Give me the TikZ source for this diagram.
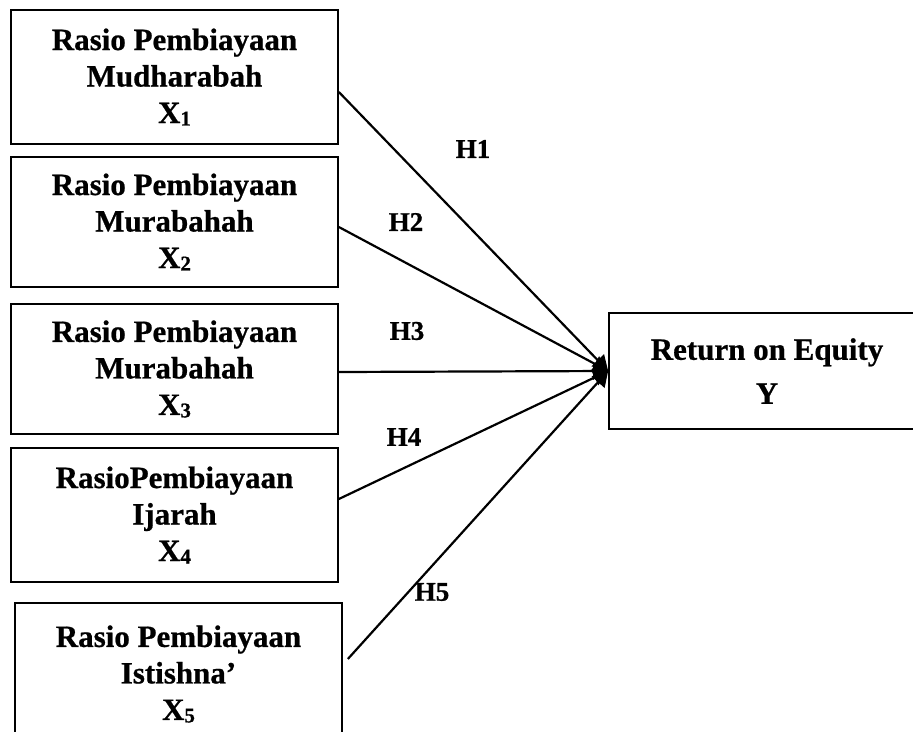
\documentclass[tikz,border=0pt]{standalone}
\usepackage{fontspec}
\setmainfont{Liberation Serif}[BoldFeatures={FakeBold=0.7}]
\usetikzlibrary{arrows.meta}
% small, slightly lowered index after a variable letter
\newcommand\varidx[1]{\raisebox{-0.08em}{\fontsize{21}{21}\selectfont #1}}

\begin{document}
\begin{tikzpicture}[x=1pt,y=-1pt,
  varbox/.style={draw, line width=1.7pt, align=center, inner sep=0pt,
                 font=\fontsize{31}{36.5}\selectfont\bfseries},
  link/.style={line width=2.2pt, -{Triangle[length=15pt,width=17pt]}},
  hyp/.style={font=\fontsize{27}{27}\selectfont\bfseries, inner sep=0pt}]
\useasboundingbox (0,0) rectangle (913,731);
\clip (0,0) rectangle (913,731);

% independent variables
\node[varbox, minimum width=327pt, minimum height=134pt] (b1) at (174.5,77)
  {Rasio Pembiayaan\\Mudharabah\\X\varidx{1}};
\node[varbox, minimum width=327pt, minimum height=130pt] (b2) at (174.5,222)
  {Rasio Pembiayaan\\Murabahah\\X\varidx{2}};
\node[varbox, minimum width=327pt, minimum height=130pt] (b3) at (174.5,369)
  {Rasio Pembiayaan\\Murabahah\\X\varidx{3}};
\node[varbox, minimum width=327pt, minimum height=134pt] (b4) at (174.5,515)
  {RasioPembiayaan\\Ijarah\\X\varidx{4}};
\node[varbox, minimum width=327pt, minimum height=142pt] (b5) at (178.5,674)
  {Rasio Pembiayaan\\Istishna'\\X\varidx{5}};

% dependent variable
\node[varbox, minimum width=316pt, minimum height=116pt,
      font=\fontsize{31}{44}\selectfont\bfseries] (y) at (767,371)
  {Return on Equity\\Y};

% hypothesised effects
\draw[link] ([yshift=-15pt]b1.east) -- (y.west);
\draw[link] ([yshift=-5pt]b2.east) -- (y.west);
\draw[link] ([yshift=-3pt]b3.east) -- (y.west);
\draw[link] ([yshift=16pt]b4.east) -- (y.west);
\draw[link] ([xshift=5pt,yshift=15pt]b5.east) -- (y.west);

\node[hyp] (h1) at (473,149) {H1};
\node[hyp] (h2) at (406,222) {H2};
\node[hyp] (h3) at (407,331) {H3};
\node[hyp] (h4) at (404,437) {H4};
\node[hyp] (h5) at (432,592) {H5};
\end{tikzpicture}
\end{document}
